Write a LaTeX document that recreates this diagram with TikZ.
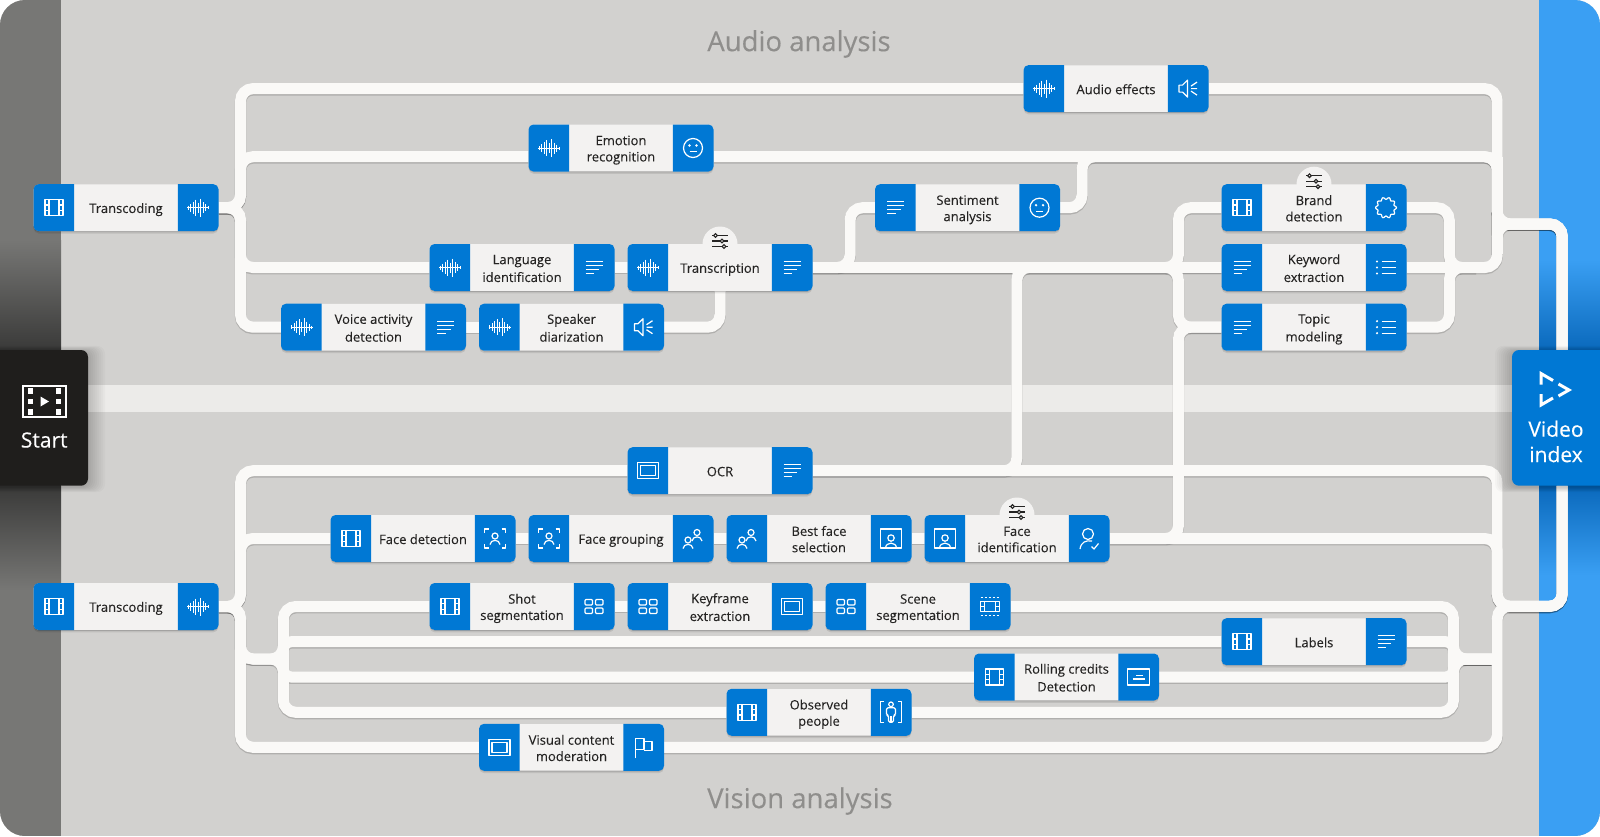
\documentclass[tikz,border=0pt]{standalone}
\usepackage{fontspec}
\setmainfont{Open Sans}
\newfontfamily\heavyfont[FakeBold=0.25]{Open Sans}
\newfontfamily\cardfont[FakeBold=0.07]{Open Sans}
\usetikzlibrary{shadows}
\definecolor{panelgray}{HTML}{D2D1CF}
\definecolor{bandgray}{HTML}{ECEBE9}
\definecolor{wirewhite}{HTML}{FAF9F7}
\definecolor{cardblue}{HTML}{0078D4}
\definecolor{cardbody}{HTML}{F3F2F1}
\definecolor{cardink}{HTML}{252423}
\definecolor{titlegray}{HTML}{8F8E8C}
\definecolor{stripgray}{HTML}{777775}
\definecolor{stripdark}{HTML}{3A3A39}
\definecolor{stripblue}{HTML}{3A9FF3}
\definecolor{stripnavy}{HTML}{0A69BC}
\definecolor{startblack}{HTML}{1F1E1C}
\pgfdeclarelayer{panel}
\pgfdeclarelayer{shade}
\pgfdeclarelayer{wires}
\pgfdeclarelayer{bubbles}
\pgfsetlayers{panel,shade,wires,bubbles,main}
\tikzset{
  wire/.style={draw=wirewhite,line width=11pt},
  wireshade/.style={draw=black,opacity=.16,line width=11.5pt},
  cardtext/.style={fill=cardbody,text=cardink,rounded corners=5pt,minimum width=184.6pt,minimum height=46.6pt,
    inner sep=0pt,align=center,font=\fontsize{13}{16.3}\cardfont,
    drop shadow={shadow xshift=0pt,shadow yshift=-1pt,opacity=.14,fill=black},
    drop shadow={shadow xshift=0pt,shadow yshift=-2.5pt,opacity=.09,fill=black}},
  title/.style={text=titlegray,font=\fontsize{27.5}{32}\heavyfont},
  bigtext/.style={text=white,align=center,font=\fontsize{21}{25}\heavyfont},
  icon/.style={draw=white,line width=1.2pt,line join=round},
  pics/iconfilm/.style={code={
    \draw[icon] (-9,-8) rectangle (9,8);
    \draw[icon] (-5,-8) -- (-5,8) (5,-8) -- (5,8);
    \draw[icon] (-9,-2.7) -- (-5,-2.7) (-9,2.7) -- (-5,2.7) (5,-2.7) -- (9,-2.7) (5,2.7) -- (9,2.7);
  }},
  pics/iconwave/.style={code={
    \draw[icon,line width=.9pt] (-11,0) -- (11,0);
    \foreach \x/\h in {-10/2,-7.5/4,-5/6,-2.5/8,0/5,2.5/9,5/5.5,7.5/3.5,10/1.5}
      \draw[icon,line width=.9pt] (\x,-\h) -- (\x,\h);
  }},
  pics/iconlines/.style={code={
    \draw[icon] (-8.5,-6) -- (8.5,-6) (-8.5,-2) -- (8.5,-2) (-8.5,2) -- (5,2) (-8.5,6) -- (0,6);
  }},
  pics/iconbullets/.style={code={
    \draw[icon] (-4.5,-6) -- (10,-6) (-4.5,0) -- (10,0) (-4.5,6) -- (10,6);
    \foreach \y in {-6,0,6} \fill[white] (-9,\y) circle (1.2);
  }},
  pics/iconspeaker/.style={code={
    \draw[icon] (-9,-3.5) -- (-5.5,-3.5) -- (-.5,-8.5) -- (-.5,8.5) -- (-5.5,3.5) -- (-9,3.5) -- cycle;
    \draw[icon] (3,-2.5) -- (9,-6.5) (3,0) -- (9,0) (3,2.5) -- (9,6.5);
  }},
  pics/iconsmile/.style={code={
    \draw[icon] (0,0) circle (9.5);
    \fill[white] (-3.5,-2.5) circle (1.3) (3.5,-2.5) circle (1.3);
    \draw[icon] (-3.5,3.8) -- (3.5,3.8);
  }},
  pics/iconbadge/.style={code={
    \draw[icon] plot[smooth cycle,domain=0:354,samples=60,variable=\t]
      ({(9.4+1.1*cos(10*\t))*cos(\t)},{(9.4+1.1*cos(10*\t))*sin(\t)});
  }},
  pics/iconframe/.style={code={
    \draw[icon] (-10.5,-8) rectangle (10.5,8);
    \draw[icon,line width=1.5pt] (-7.5,-5) rectangle (7.5,5);
  }},
  pics/icongrid/.style={code={
    \foreach \x in {-9,1.5} \foreach \y in {-7,1.5}
      \draw[icon,rounded corners=1pt] (\x,\y) rectangle ++(7.5,5.5);
  }},
  pics/iconperson/.style={code={
    \draw[icon] (0,-2.5) circle (3);
    \draw[icon] (-5,6) .. controls (-4.5,.5) and (4.5,.5) .. (5,6);
  }},
  pics/iconfacebox/.style={code={
    \draw[icon] (-10.5,-5.5) -- (-10.5,-9.5) -- (-6.5,-9.5) (6.5,-9.5) -- (10.5,-9.5) -- (10.5,-5.5)
      (10.5,5.5) -- (10.5,9.5) -- (6.5,9.5) (-6.5,9.5) -- (-10.5,9.5) -- (-10.5,5.5);
    \pic at (0,0) {iconperson};
  }},
  pics/icongroup/.style={code={
    \pic at (4,-3.5) {iconperson};
    \pic at (-5,4) {iconperson};
  }},
  pics/iconportrait/.style={code={
    \draw[icon] (-10.5,-9.5) rectangle (10.5,9.5);
    \draw[icon] (0,-.5) circle (3.2);
    \draw[icon] (-5.5,9.5) .. controls (-5,3) and (5,3) .. (5.5,9.5);
  }},
  pics/iconcheck/.style={code={
    \draw[icon] (-1,-4.5) circle (5.5);
    \draw[icon] (-9,10.5) .. controls (-8,3.5) and (-3,1.5) .. (3,2.5);
    \draw[icon] (2.5,8) -- (5,10.5) -- (9.5,5);
  }},
  pics/iconflag/.style={code={
    \draw[icon] (-8,11) -- (-8,-9) -- (.5,-9) -- (.5,2) -- (-8,2);
    \draw[icon] (.5,-6) -- (8.5,-6) -- (8.5,3) -- (.5,3);
  }},
  pics/iconscene/.style={code={
    \draw[icon] (-9.5,-5) rectangle (9.5,5);
    \draw[icon] (-5.5,-5) -- (-5.5,5) (5.5,-5) -- (5.5,5) (-9.5,0) -- (-5.5,0) (5.5,0) -- (9.5,0);
    \draw[icon,dash pattern=on 2.4pt off 1.6pt] (-9.5,-9) -- (9.5,-9) (-9.5,9) -- (9.5,9);
  }},
  pics/iconcredits/.style={code={
    \draw[icon] (-11,-8) rectangle (11,8);
    \draw[icon] (-2.5,-1.5) -- (4,-1.5) (-6,2) -- (6,2);
  }},
  pics/iconpeople/.style={code={
    \draw[icon] (-7,-11) -- (-10.5,-11) -- (-10.5,10) -- (-7,10) (7,-11) -- (10.5,-11) -- (10.5,10) -- (7,10);
    \draw[icon] (0,-8) circle (2.3);
    \draw[icon,rounded corners=1.5pt] (-2.5,10) -- (-2.5,3) -- (-4.5,3) -- (-4.5,-4.5) -- (4.5,-4.5) -- (4.5,3) -- (2.5,3) -- (2.5,10) -- cycle;
    \draw[icon] (0,4) -- (0,10);
  }},
  pics/iconsliders/.style={code={
    \draw[cardink,line width=1.1pt] (-8,-5.5) -- (8,-5.5) (-8,0) -- (8,0) (-8,5.5) -- (8,5.5);
    \foreach \x/\y in {-4.5/-5.5,2/0,4/5.5} \draw[cardink,fill=cardbody,line width=1.1pt] (\x,\y) circle (1.8);
  }},
}
\newcommand\wire[2][12.5pt]{%
  \begin{pgfonlayer}{shade}\draw[wireshade,rounded corners=#1,transform canvas={yshift=-1.2pt}] #2;\end{pgfonlayer}
  \begin{pgfonlayer}{wires}\draw[wire,rounded corners=#1] #2;\end{pgfonlayer}}
\newcommand\cardhigh{\rule[-2.6pt]{0pt}{16.3pt}}
\newcommand\card[6]{%
  \node[cardtext] (#1) at (#2,#3) {\cardhigh #5\cardhigh};
  \fill[cardblue] ([xshift=40.6pt]#1.south west) [rounded corners=5pt] -- (#1.south west) -- (#1.north west) [sharp corners] -- ([xshift=40.6pt]#1.north west) -- cycle;
  \fill[cardblue] ([xshift=-40.6pt]#1.south east) [rounded corners=5pt] -- (#1.south east) -- (#1.north east) [sharp corners] -- ([xshift=-40.6pt]#1.north east) -- cycle;
  \pic at ([xshift=20.5pt]#1.west) {#4};
  \pic at ([xshift=-20.5pt]#1.east) {#6};}
\newcommand\bubble[1]{%
  \begin{pgfonlayer}{bubbles}\fill[cardbody] (#1.north) circle (17.5);\end{pgfonlayer}
  \pic at ([yshift=3pt]#1.north) {iconsliders};}
\begin{document}
\begin{tikzpicture}[x=1pt,y=-1pt]
  \useasboundingbox (0,0) rectangle (1600,836);
  % panel and side strips
  \begin{pgfonlayer}{panel}
    \begin{scope}
      \clip[rounded corners=25] (0,0) rectangle (1600,836);
      \fill[panelgray] (0,0) rectangle (1600,836);
      \fill[stripgray] (0,0) rectangle (61,240);
      \shade[top color=stripgray,bottom color=stripdark] (0,240) rectangle (61,350);
      \fill[stripdark] (0,350) rectangle (61,486);
      \shade[top color=stripdark,bottom color=stripgray] (0,486) rectangle (61,590);
      \fill[stripgray] (0,590) rectangle (61,836);
      \fill[stripblue] (1539,0) rectangle (1600,260);
      \shade[top color=stripblue,bottom color=stripnavy] (1539,260) rectangle (1600,350);
      \fill[stripnavy] (1539,350) rectangle (1600,486);
      \shade[top color=stripnavy,bottom color=stripblue] (1539,486) rectangle (1600,575);
      \fill[stripblue] (1539,575) rectangle (1600,836);
      \fill[bandgray] (61,385.3) rectangle (1539,412.3);
    \end{scope}
  \end{pgfonlayer}
  \node[title] (audioTitle) at (799,44) {Audio analysis};
  \node[title] (visionTitle) at (800,801) {Vision analysis};
  % audio cards
  \card{transA}{126}{207.7}{iconfilm}{Transcoding}{iconwave}
  \card{audio}{1116}{88.6}{iconwave}{Audio effects}{iconspeaker}
  \card{emotion}{621}{148}{iconwave}{Emotion\\recognition}{iconsmile}
  \card{sentiment}{967.5}{207.7}{iconlines}{Sentiment\\analysis}{iconsmile}
  \card{brand}{1314}{207.7}{iconfilm}{Brand\\detection}{iconbadge}
  \card{keyword}{1314}{267.5}{iconlines}{Keyword\\extraction}{iconbullets}
  \card{topic}{1314}{327.2}{iconlines}{Topic\\modeling}{iconbullets}
  \card{language}{522}{267.5}{iconwave}{Language\\identification}{iconlines}
  \card{transcription}{720}{267.5}{iconwave}{Transcription}{iconlines}
  \card{voice}{373.5}{327.2}{iconwave}{Voice activity\\detection}{iconlines}
  \card{speaker}{571.5}{327.2}{iconwave}{Speaker\\diarization}{iconspeaker}
  % vision cards
  \card{transB}{126}{606.5}{iconfilm}{Transcoding}{iconwave}
  \card{ocr}{720}{470.7}{iconframe}{OCR}{iconlines}
  \card{facedet}{423}{538.5}{iconfilm}{Face detection}{iconfacebox}
  \card{facegroup}{621}{538.5}{iconfacebox}{Face grouping}{icongroup}
  \card{bestface}{819}{538.5}{icongroup}{Best face\\selection}{iconportrait}
  \card{faceid}{1017}{538.5}{iconportrait}{Face\\identification}{iconcheck}
  \card{shot}{522}{606.5}{iconfilm}{Shot\\segmentation}{icongrid}
  \card{keyframe}{720}{606.5}{icongrid}{Keyframe\\extraction}{iconframe}
  \card{scene}{918}{606.5}{icongrid}{Scene\\segmentation}{iconscene}
  \card{labels}{1314}{641.7}{iconfilm}{Labels}{iconlines}
  \card{rolling}{1066.5}{677}{iconfilm}{Rolling credits\\Detection}{iconcredits}
  \card{observed}{819}{712.3}{iconfilm}{Observed\\people}{iconpeople}
  \card{visual}{571.5}{747.3}{iconframe}{Visual content\\moderation}{iconflag}
  \bubble{transcription}
  \bubble{brand}
  \bubble{faceid}
  % start and end blocks, soft edge built up in steps
  \foreach \r in {1,3,...,17} {
    \fill[black,opacity=.022,rounded corners=8] (-30,351-.3*\r) rectangle (88+\r,487+.3*\r);
    \fill[black,opacity=.022,rounded corners=8] (1512-\r,351-.3*\r) rectangle (1630,487+.3*\r);
  }
  \fill[startblack,rounded corners=7] (-12,350) rectangle (88,485.7);
  \fill[cardblue,rounded corners=7] (1512,350) rectangle (1612,485.7);
  \draw[white,line width=2pt] (22.7,386) rectangle (65.7,417);
  \foreach \y in {391,401.5,412} {
    \fill[white] (27.5,\y-2.8) rectangle (33,\y+2.8);
    \fill[white] (55.5,\y-2.8) rectangle (61,\y+2.8);
  }
  \fill[white] (40.5,396.5) -- (49,401.5) -- (40.5,406.5) -- cycle;
  \node[bigtext] (start) at (44.2,440) {Start};
  \draw[white,line width=3pt,line join=miter] (1541,384.5) -- (1541,373.5) -- (1553,380.5);
  \draw[white,line width=3pt,line join=miter] (1558.5,384) -- (1569,390) -- (1558.5,396);
  \draw[white,line width=3pt,line join=miter] (1541,394) -- (1541,405) -- (1553,398);
  \node[bigtext] (videoindex) at (1556,441.5) {Video\\[.4pt]index};
  % named bus lines
  \coordinate (busA) at (240.5,0);
  \coordinate (busB) at (283.3,0);
  \coordinate (riseS) at (850,0);
  \coordinate (riseO) at (1016.8,0);
  \coordinate (riseE) at (1082,0);
  \coordinate (busC) at (1178.3,0);
  \coordinate (busD) at (1449.3,0);
  \coordinate (busF) at (1453.6,0);
  \coordinate (busR) at (1497.2,0);
  \coordinate (busV) at (1562.2,0);
  \coordinate (joinK) at (1476,0);
  \coordinate (emotionLine) at (0,156.7);
  \coordinate (tapA) at (0,224);
  \coordinate (tapA2) at (0,254);
  \coordinate (tapB) at (0,606.3);
  \coordinate (split) at (0,659);
  \coordinate (videoTop) at (1562.2,350);
  \coordinate (videoBottom) at (1562.2,485.7);
  % audio wires
  \wire{(transA.east) -- (busA |- transA.east) -- (busA |- audio.west) -- (audio.west)}
  \wire{(transA.east) -- (busA |- transA.east) -- (busA |- emotionLine) -- (emotion.west |- emotionLine)}
  \wire{(transA.east) -- (busA |- transA.east) -- (busA |- language.west) -- (language.west)}
  \wire{(transA.east) -- (busA |- transA.east) -- (busA |- voice.west) -- (voice.west)}
  \wire{(voice.east) -- (speaker.west)}
  \wire{(language.east) -- (transcription.west)}
  \wire{(speaker.east) -- (transcription.south |- speaker.east) -- (transcription.south)}
  \wire{(transcription.east) -- (riseS |- transcription.east) -- (riseS |- sentiment.west) -- (sentiment.west)}
  \wire{(transcription.east) -- (keyword.west)}
  \wire{(transcription.east) -- (busC |- keyword.west) -- (busC |- brand.west) -- (brand.west)}
  \wire{(transcription.east) -- (busC |- keyword.west) -- (busC |- topic.west) -- (topic.west)}
  \wire{(ocr.east) -- (riseO |- ocr.east) -- (riseO |- keyword.west) -- (keyword.west)}
  \wire{(sentiment.east) -- (riseE |- sentiment.east) -- (riseE |- emotionLine) -- (busR |- emotionLine) -- (busR |- tapA) -- (busV |- tapA) -- (videoTop)}
  \wire{(emotion.east |- emotionLine) -- (busR |- emotionLine) -- (busR |- tapA) -- (busV |- tapA) -- (videoTop)}
  \wire{(audio.east) -- (busR |- audio.east) -- (busR |- tapA) -- (busV |- tapA) -- (videoTop)}
  \wire{(keyword.east) -- (busR |- keyword.east) -- (busR |- tapA) -- (busV |- tapA) -- (videoTop)}
  \wire{(busR |- emotionLine) -- (busR |- tapA2)}
  \wire{(brand.east) -- (busD |- brand.east) -- (busD |- keyword.east) -- (joinK |- keyword.east)}
  \wire{(topic.east) -- (busD |- topic.east) -- (busD |- keyword.east) -- (joinK |- keyword.east)}
  % vision wires
  \wire{(transB.east) -- (busA |- transB.east) -- (busA |- ocr.west) -- (ocr.west)}
  \wire{(transB.east) -- (busA |- transB.east) -- (busA |- facedet.west) -- (facedet.west)}
  \wire{(transB.east) -- (busA |- transB.east) -- (busA |- visual.west) -- (visual.west)}
  \wire{(transB.east) -- (busA |- transB.east) -- (busA |- split) -- (busB |- split) -- (busB |- shot.west) -- (shot.west)}
  \wire{(transB.east) -- (busA |- transB.east) -- (busA |- split) -- (busB |- split) -- (busB |- observed.west) -- (observed.west)}
  \wire[8pt]{(busB |- split) -- (busB |- labels.west) -- (labels.west)}
  \wire[8pt]{(busB |- split) -- (busB |- rolling.west) -- (rolling.west)}
  \wire{(facedet.east) -- (facegroup.west)}
  \wire{(facegroup.east) -- (bestface.west)}
  \wire{(bestface.east) -- (faceid.west)}
  \wire{(shot.east) -- (keyframe.west)}
  \wire{(keyframe.east) -- (scene.west)}
  \wire{(faceid.east) -- (busC |- faceid.east) -- (busC |- topic.west) -- (topic.west)}
  \wire{(ocr.east) -- (busR |- ocr.east) -- (busR |- tapB) -- (busV |- tapB) -- (videoBottom)}
  \wire{(faceid.east) -- (busR |- faceid.east) -- (busR |- tapB) -- (busV |- tapB) -- (videoBottom)}
  \wire{(visual.east) -- (busR |- visual.east) -- (busR |- tapB) -- (busV |- tapB) -- (videoBottom)}
  \wire{(scene.east) -- (busF |- scene.east) -- (busF |- split) -- (busR |- split)}
  \wire{(observed.east) -- (busF |- observed.east) -- (busF |- split) -- (busR |- split)}
  \wire[8pt]{(labels.east) -- (busF |- labels.east) -- (busF |- split) -- (busR |- split)}
  \wire[8pt]{(rolling.east) -- (busF |- rolling.east) -- (busF |- split) -- (busR |- split)}
  \wire{(busF |- labels.east) -- (busF |- rolling.east)}
\end{tikzpicture}
\end{document}
